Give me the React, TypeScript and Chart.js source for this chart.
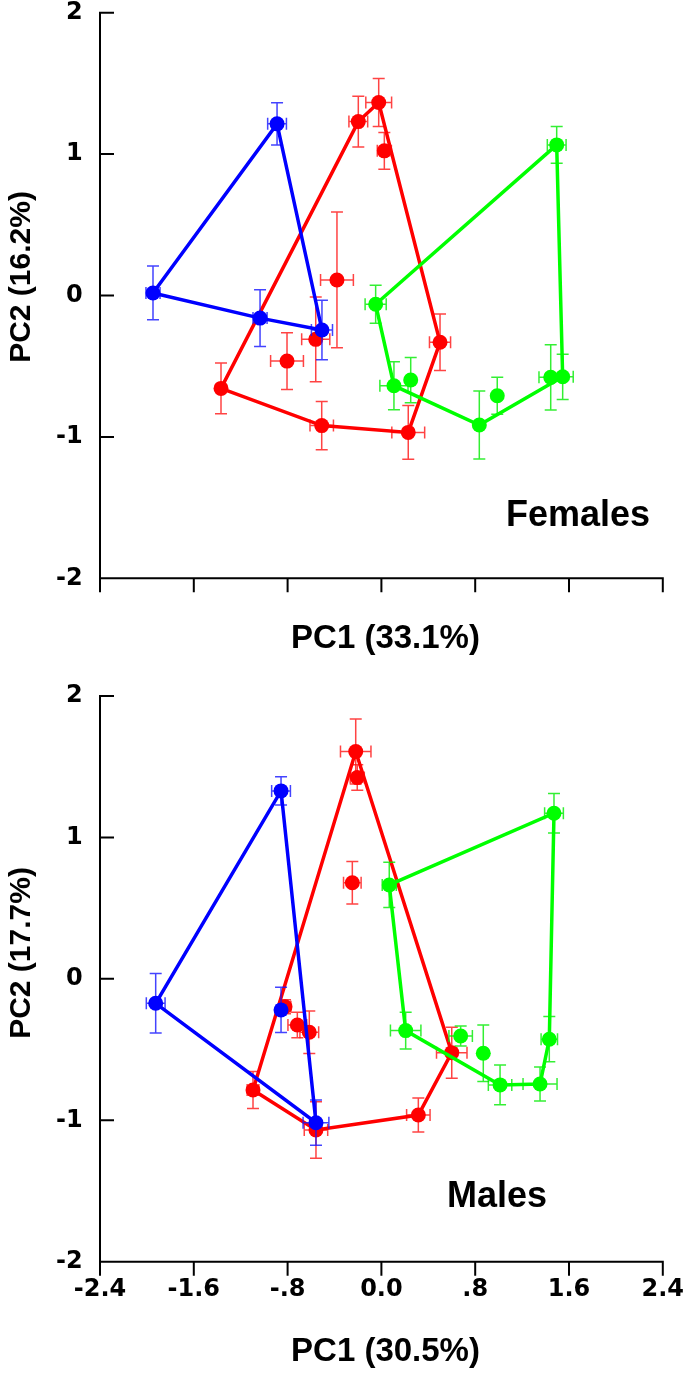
import React, { useEffect, useRef } from "react";
import { Chart, registerables } from "chart.js";

Chart.register(...registerables);

const FONT = '"Liberation Sans", Arial, sans-serif';
const TICK_FONT = '"DejaVu Sans", "Liberation Sans", Arial, sans-serif';

const xTickValues = [-2.4, -1.6, -0.8, 0, 0.8, 1.6, 2.4];
const xTickLabels = ["-2.4", "-1.6", "-.8", "0.0", ".8", "1.6", "2.4"];
const yTickValues = [-2, -1, 0, 1, 2];
const yTickLabels = ["-2", "-1", "0", "1", "2"];

// ---------- Females ----------
const femBlueX = [-1.948, -0.89, -1.035, -0.507];
const femBlueY = [0.018, 1.214, -0.16, -0.244];
const femBlueXErr = [0.06, 0.08, 0.06, 0.09];
const femBlueYErr = [0.19, 0.15, 0.2, 0.21];
const femBlueHull = [0, 1, 3, 2];

const femRedX = [-1.368, -0.197, -0.023, 0.5, 0.229, -0.509, 0.025, -0.379, -0.56, -0.805];
const femRedY = [-0.657, 1.23, 1.365, -0.331, -0.968, -0.92, 1.023, 0.11, -0.31, -0.464];
const femRedXErr = [0.03, 0.08, 0.11, 0.09, 0.14, 0.1, 0.06, 0.14, 0.12, 0.14];
const femRedYErr = [0.18, 0.18, 0.17, 0.2, 0.19, 0.17, 0.13, 0.48, 0.3, 0.2];
const femRedHull = [0, 1, 2, 3, 4, 5];

const femGreenX = [-0.049, 1.495, 1.546, 0.835, 0.107, 0.25, 0.988, 1.444];
const femGreenY = [-0.062, 1.065, -0.575, -0.916, -0.638, -0.598, -0.709, -0.579];
const femGreenXErr = [0.09, 0.08, 0.09, 0.03, 0.12, 0.03, 0.03, 0.1];
const femGreenYErr = [0.135, 0.13, 0.16, 0.24, 0.17, 0.16, 0.13, 0.23];
const femGreenHull = [0, 1, 2, 3, 4];

// ---------- Males ----------
const malBlueX = [-1.925, -0.856, -0.558, -0.856];
const malBlueY = [-0.173, 1.329, -1.017, -0.22];
const malBlueXErr = [0.08, 0.08, 0.11, 0.04];
const malBlueYErr = [0.21, 0.1, 0.16, 0.16];
const malBlueHull = [0, 1, 2];

const malRedX = [-1.095, -0.219, 0.6, 0.315, -0.558, -0.206, -0.248, -0.822, -0.717, -0.615];
const malRedY = [-0.786, 1.607, -0.522, -0.963, -1.069, 1.423, 0.68, -0.197, -0.326, -0.378];
const malRedXErr = [0.05, 0.13, 0.13, 0.1, 0.1, 0.06, 0.075, 0.05, 0.08, 0.08];
const malRedYErr = [0.13, 0.23, 0.18, 0.12, 0.2, 0.09, 0.15, 0.05, 0.09, 0.15];
const malRedHull = [0, 1, 2, 3, 4];

const malGreenX = [0.067, 1.472, 1.432, 1.353, 1.012, 0.207, 0.676, 0.869];
const malGreenY = [0.664, 1.171, -0.427, -0.743, -0.75, -0.366, -0.404, -0.526];
const malGreenXErr = [0.06, 0.08, 0.07, 0.145, 0.1, 0.13, 0.1, 0.03];
const malGreenYErr = [0.16, 0.14, 0.16, 0.12, 0.14, 0.13, 0.07, 0.2];
const malGreenHull = [0, 1, 2, 3, 4, 5];

const BLUE = "#0000ff";
const RED = "#ff0000";
const GREEN = "#00ff00";
const BLUE_ERR = "rgba(20,20,255,0.8)";
const RED_ERR = "rgba(255,20,20,0.8)";
const GREEN_ERR = "rgba(0,235,0,0.8)";

type Group = {
  x: number[];
  y: number[];
  xe: number[];
  ye: number[];
  hull: number[];
  color: string;
  err: string;
};

const femGroups: Group[] = [
  { x: femRedX, y: femRedY, xe: femRedXErr, ye: femRedYErr, hull: femRedHull, color: RED, err: RED_ERR },
  { x: femGreenX, y: femGreenY, xe: femGreenXErr, ye: femGreenYErr, hull: femGreenHull, color: GREEN, err: GREEN_ERR },
  { x: femBlueX, y: femBlueY, xe: femBlueXErr, ye: femBlueYErr, hull: femBlueHull, color: BLUE, err: BLUE_ERR },
];
const malGroups: Group[] = [
  { x: malRedX, y: malRedY, xe: malRedXErr, ye: malRedYErr, hull: malRedHull, color: RED, err: RED_ERR },
  { x: malGreenX, y: malGreenY, xe: malGreenXErr, ye: malGreenYErr, hull: malGreenHull, color: GREEN, err: GREEN_ERR },
  { x: malBlueX, y: malBlueY, xe: malBlueXErr, ye: malBlueYErr, hull: malBlueHull, color: BLUE, err: BLUE_ERR },
];

const CAP = 6;

const decorPlugin = {
  id: "panelDecor",
  beforeDatasetDraw(chart: any, args: any) {
    const ds = chart.data.datasets[args.index];
    const g: Group | undefined = ds.errGroup;
    if (!g) return;
    const xs = chart.scales.x;
    const ys = chart.scales.y;
    const ctx = chart.ctx;
    ctx.save();
    ctx.strokeStyle = g.err;
    ctx.lineWidth = 1.5;
    for (let i = 0; i < g.x.length; i++) {
      const px = xs.getPixelForValue(g.x[i]);
      const py = ys.getPixelForValue(g.y[i]);
      const x0 = xs.getPixelForValue(g.x[i] - g.xe[i]);
      const x1 = xs.getPixelForValue(g.x[i] + g.xe[i]);
      const y0 = ys.getPixelForValue(g.y[i] - g.ye[i]);
      const y1 = ys.getPixelForValue(g.y[i] + g.ye[i]);
      ctx.beginPath();
      ctx.moveTo(px, y0);
      ctx.lineTo(px, y1);
      ctx.moveTo(px - CAP, y0);
      ctx.lineTo(px + CAP, y0);
      ctx.moveTo(px - CAP, y1);
      ctx.lineTo(px + CAP, y1);
      ctx.moveTo(x0, py);
      ctx.lineTo(x1, py);
      ctx.moveTo(x0, py - CAP);
      ctx.lineTo(x0, py + CAP);
      ctx.moveTo(x1, py - CAP);
      ctx.lineTo(x1, py + CAP);
      ctx.stroke();
    }
    ctx.restore();
  },
  afterDraw(chart: any, _args: any, opts: any) {
    const xs = chart.scales.x;
    const ys = chart.scales.y;
    const ctx = chart.ctx;
    const area = chart.chartArea;
    ctx.save();
    ctx.strokeStyle = "#000";
    ctx.lineWidth = 2;
    ctx.lineCap = "butt";
    ctx.beginPath();
    const yTop = ys.getPixelForValue(yTickValues[yTickValues.length - 1]);
    ctx.moveTo(area.left, yTop - 1);
    ctx.lineTo(area.left, area.bottom);
    ctx.moveTo(area.left - 1, area.bottom);
    ctx.lineTo(area.right + 1, area.bottom);
    for (const v of yTickValues) {
      const y = ys.getPixelForValue(v);
      ctx.moveTo(area.left, y);
      ctx.lineTo(area.left + 14, y);
    }
    for (const v of xTickValues) {
      const x = xs.getPixelForValue(v);
      ctx.moveTo(x, area.bottom);
      ctx.lineTo(x, area.bottom + 14);
    }
    ctx.stroke();

    ctx.fillStyle = "#000";
    // panel tag
    ctx.font = `bold 36px ${FONT}`;
    ctx.textAlign = "left";
    ctx.textBaseline = "alphabetic";
    ctx.fillText(opts.tag, xs.getPixelForValue(opts.tagX), ys.getPixelForValue(opts.tagY));

    // x title
    ctx.font = `bold 33px ${FONT}`;
    ctx.textAlign = "center";
    ctx.textBaseline = "middle";
    ctx.fillText(opts.xTitle, opts.xTitleX, opts.xTitleY);

    // y title
    ctx.font = `bold 30px ${FONT}`;
    ctx.translate(opts.yTitleX, opts.yTitleY);
    ctx.rotate(-Math.PI / 2);
    ctx.fillText(opts.yTitle, 0, 0);
    ctx.restore();
  },
};

type PanelProps = {
  top: number;
  height: number;
  chartTop: number;
  chartBottom: number;
  groups: Group[];
  showXLabels: boolean;
  tag: string;
  tagX: number;
  tagY: number;
  xTitle: string;
  yTitle: string;
  xTitleY: number;
  yTitleY: number;
};

function findLabel(values: number[], labels: string[], v: number) {
  const i = values.findIndex((t) => Math.abs(t - v) < 1e-9);
  return i >= 0 ? labels[i] : "";
}

function Panel(p: PanelProps) {
  const ref = useRef<HTMLCanvasElement | null>(null);
  useEffect(() => {
    const canvas = ref.current;
    if (!canvas) return;
    const datasets: any[] = [];
    const n = p.groups.length;
    p.groups.forEach((g, gi) => {
      const rank = n - 1 - gi; // later groups on top
      const hullPts = g.hull.concat([g.hull[0]]).map((i) => ({ x: g.x[i], y: g.y[i] }));
      datasets.push({
        data: hullPts,
        showLine: true,
        borderColor: g.color,
        borderWidth: 3.5,
        pointRadius: 0,
        pointHoverRadius: 0,
        fill: false,
        tension: 0,
        order: rank * 2 + 1,
        errGroup: g,
      });
      datasets.push({
        data: g.x.map((v, i) => ({ x: v, y: g.y[i] })),
        showLine: false,
        backgroundColor: g.color,
        borderColor: g.color,
        borderWidth: 0,
        pointRadius: 7.5,
        pointHoverRadius: 7.5,
        order: rank * 2,
      });
    });
    const tickFont = { family: TICK_FONT, size: 24, weight: "bold" as const };
    const chart = new Chart(canvas, {
      type: "scatter",
      data: { datasets },
      options: {
        animation: false,
        responsive: false,
        devicePixelRatio: 1,
        events: [],
        layout: { padding: { top: p.chartTop, right: 22.2, left: 0, bottom: 0 } },
        plugins: {
          legend: { display: false },
          tooltip: { enabled: false },
          panelDecor: {
            tag: p.tag,
            tagX: p.tagX,
            tagY: p.tagY,
            xTitle: p.xTitle,
            yTitle: p.yTitle,
            xTitleX: 385.5,
            xTitleY: p.xTitleY,
            yTitleX: 22,
            yTitleY: p.yTitleY,
          },
        } as any,
        scales: {
          x: {
            type: "linear",
            min: -2.4,
            max: 2.4,
            afterBuildTicks: (s: any) => {
              s.ticks = xTickValues.map((v) => ({ value: v }));
            },
            afterFit: (s: any) => {
              s.height = p.height - p.chartBottom;
              s.paddingLeft = 0;
              s.paddingRight = 0;
            },
            grid: { display: false, drawTicks: false },
            border: { display: false },
            ticks: {
              display: p.showXLabels,
              padding: 14,
              color: "#000",
              font: tickFont,
              autoSkip: false,
              maxRotation: 0,
              minRotation: 0,
              callback: (v: any) => findLabel(xTickValues, xTickLabels, Number(v)),
            },
          },
          y: {
            type: "linear",
            min: -2,
            max: 2,
            afterBuildTicks: (s: any) => {
              s.ticks = yTickValues.map((v) => ({ value: v }));
            },
            afterFit: (s: any) => {
              s.width = 100;
              s.paddingTop = 0;
              s.paddingBottom = 0;
            },
            grid: { display: false, drawTicks: false },
            border: { display: false },
            ticks: {
              padding: 17.3,
              color: "#000",
              font: tickFont,
              autoSkip: false,
              callback: (v: any) => findLabel(yTickValues, yTickLabels, Number(v)),
            },
          },
        },
      },
      plugins: [decorPlugin as any],
    });
    return () => chart.destroy();
  }, []);
  return (
    <canvas
      ref={ref}
      width={685}
      height={p.height}
      style={{ position: "absolute", left: 0, top: p.top, width: 685, height: p.height, display: "block" }}
    />
  );
}

export default function App() {
  return (
    <div
      style={{
        position: "absolute",
        left: 0,
        top: 0,
        width: 685,
        height: 1376,
        background: "#ffffff",
        overflow: "hidden",
      }}
    >
      <Panel
        top={0}
        height={660}
        chartTop={12.7}
        chartBottom={578.3}
        groups={femGroups}
        showXLabels={false}
        tag="Females"
        tagX={1.063}
        tagY={-1.63}
        xTitle="PC1 (33.1%)"
        yTitle="PC2 (16.2%)"
        xTitleY={639}
        yTitleY={277}
      />
      <Panel
        top={660}
        height={716}
        chartTop={36}
        chartBottom={601.7}
        groups={malGroups}
        showXLabels={true}
        tag="Males"
        tagX={0.56}
        tagY={-1.613}
        xTitle="PC1 (30.5%)"
        yTitle="PC2 (17.7%)"
        xTitleY={692}
        yTitleY={293}
      />
    </div>
  );
}
